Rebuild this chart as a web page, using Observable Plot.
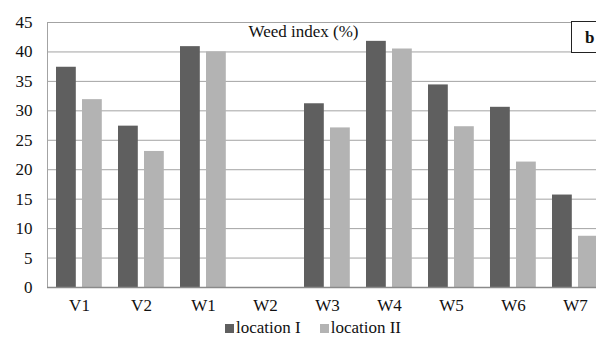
<!DOCTYPE html>
<html>
<head>
<meta charset="utf-8">
<script src="https://cdn.jsdelivr.net/npm/d3@7"></script>
<script src="https://cdn.jsdelivr.net/npm/@observablehq/plot@0.6"></script>
<style>
  html, body { margin: 0; padding: 0; background: #fff; overflow: hidden; width: 596px; height: 338px; }
  #wrap { position: relative; width: 596px; height: 338px; overflow: hidden; font-family: "Liberation Serif", "Times New Roman", serif; }
  #chart svg { display: block; max-width: none !important; width: 620px; height: 318px; font-family: "Liberation Serif", "Times New Roman", serif; }
  #chart svg text { font-family: "Liberation Serif", "Times New Roman", serif; }
  #tag { position: absolute; left: 571px; top: 21px; width: 40px; height: 32px; border: 1px solid #222; background: #fff;
         font-weight: bold; font-size: 17px; line-height: 31px; padding-left: 13px; box-sizing: border-box; color: #111; }
  #legend { position: absolute; left: 225px; top: 318px; height: 20px; display: flex; align-items: center; font-size: 17px; color: #111; }
  #legend .sw { display: inline-block; width: 9px; height: 9px; margin-right: 2px; }
  #legend .item { display: flex; align-items: center; margin-right: 19px; }
</style>
</head>
<body>
<div id="wrap">
  <div id="chart"></div>
  <div id="tag">b</div>
  <div id="legend"></div>
</div>
<script>
const categories = ["V1", "V2", "W1", "W2", "W3", "W4", "W5", "W6", "W7"];
const locationI  = [37.4, 27.4, 40.9, 0, 31.2, 41.8, 34.4, 30.6, 15.7];
const locationII = [31.9, 23.1, 40.0, 0, 27.1, 40.5, 27.3, 21.3, 8.7];
const seriesNames = ["location I", "location II"];
const yTicks = [0, 5, 10, 15, 20, 25, 30, 35, 40, 45];
const titleText = "Weed index (%)";

const colors = { "location I": "#5f5f5f", "location II": "#b3b3b3" };
const font = '"Liberation Serif", "Times New Roman", serif';

const dataI = categories.map((c, i) => ({ cat: c, value: locationI[i] }));
const dataII = categories.map((c, i) => ({ cat: c, value: locationII[i] }));

const chart = Plot.plot({
  width: 620,
  height: 318,
  marginLeft: 47,
  marginRight: 13,
  marginTop: 22,
  marginBottom: 31,
  style: { fontFamily: font, fontSize: "17px", color: "#111", background: "#fff" },
  x: { domain: categories, padding: 0, label: null },
  y: { domain: [0, 45], label: null },
  marks: [
    Plot.gridY(yTicks, { stroke: "#a3a3a3", strokeOpacity: 1 }),
    Plot.frame({ stroke: "#a3a3a3" }),
    Plot.barY(dataI, { x: "cat", y: "value", fill: colors["location I"], insetLeft: 8, insetRight: 34.2 }),
    Plot.barY(dataII, { x: "cat", y: "value", fill: colors["location II"], insetLeft: 34, insetRight: 8.2 }),
    Plot.ruleY([0], { stroke: "#8a8a8a", strokeWidth: 1.5 }),
    Plot.axisY(yTicks, { tickSize: 0, tickPadding: 15, fontSize: 17, label: null }),
    Plot.axisX({ tickSize: 0, tickPadding: 11, fontSize: 17, label: null }),
    Plot.text([titleText], { text: d => d, frameAnchor: "top", dx: -24, dy: 9, fontSize: 17, fill: "#111", lineAnchor: "middle" })
  ]
});
document.getElementById("chart").appendChild(chart);

const legend = document.getElementById("legend");
seriesNames.forEach(name => {
  const item = document.createElement("span");
  item.className = "item";
  const sw = document.createElement("span");
  sw.className = "sw";
  sw.style.background = colors[name];
  item.appendChild(sw);
  item.appendChild(document.createTextNode(name));
  legend.appendChild(item);
});
</script>
</body>
</html>
